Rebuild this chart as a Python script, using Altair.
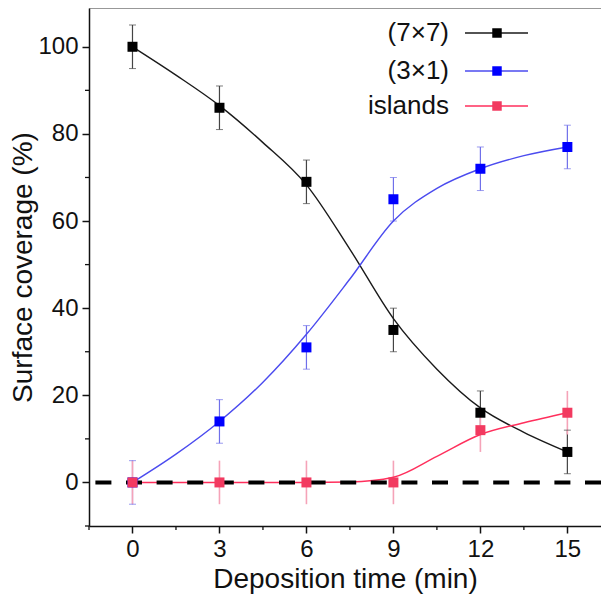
import altair as alt
import pandas as pd

# ---- data ----
time = [0, 3, 6, 9, 12, 15]
cov_77 = [100, 86, 69, 35, 16, 7]
cov_31 = [0, 14, 31, 65, 72, 77]
cov_isl = [0, 0, 0, 0, 12, 16]
err = [5, 5, 5, 5, 5, 5]

# fitted curves
fit_t = [0, 1.5, 3, 4.5, 6, 7.5, 9, 10.5, 12, 13.5, 15]
fit_77 = [100, 93.5, 86.5, 78, 68.3, 53.5, 37.6, 26, 17.1, 11.5, 7]
fit_31 = [0, 6.5, 14, 23, 34, 46.7, 60, 67.5, 72, 75, 77]
fit_isl = [0, 0, 0, 0, 0, 0.1, 1.2, 6, 11, 13.7, 16]

series = ["(7×7)", "(3×1)", "islands"]
marker_colors = ["#000000", "#0000ff", "#f23a60"]
line_colors = ["#1a1a1a", "#4b4bef", "#ff2f5c"]
err_colors = ["#444444", "#6f6fea", "#f5a3b8"]

x_major = [0, 3, 6, 9, 12, 15]
x_minor = [-1.5, 1.5, 4.5, 7.5, 10.5, 13.5]
y_major = [0, 20, 40, 60, 80, 100]
y_minor = [-10, 10, 30, 50, 70, 90]

W, H = 512, 518
FONT = "Liberation Sans"

xscale = alt.Scale(domain=[-1.5, 16.16], nice=False, zero=False)
yscale = alt.Scale(domain=[-10, 108.9], nice=False, zero=False)

common = dict(grid=False, tickSize=7, tickWidth=1.5, tickColor="#111", domainColor="#111",
              domainWidth=1.5, labelFont=FONT, labelFontSize=24, labelColor="#111",
              titleFont=FONT, titleFontWeight="normal", titleColor="#111", labelFlush=False)
xaxis = alt.Axis(values=x_major, title="Deposition time (min)", labelPadding=4,
                 titleFontSize=28, titlePadding=4, **common)
yaxis = alt.Axis(values=y_major, title="Surface coverage (%)", labelPadding=4,
                 titleFontSize=28, titlePadding=0, **common)


def X(f):
    return alt.X(f, type="quantitative", scale=xscale, axis=xaxis)


def Y(f):
    return alt.Y(f, type="quantitative", scale=yscale, axis=yaxis)


pts_vals = [cov_77, cov_31, cov_isl]
fit_vals = [fit_77, fit_31, fit_isl]

err_layers, cap_layers, line_layers, mark_layers = [], [], [], []
for i, name in enumerate(series):
    dfp = pd.DataFrame({"t": time, "v": pts_vals[i],
                        "lo": [v - e for v, e in zip(pts_vals[i], err)],
                        "hi": [v + e for v, e in zip(pts_vals[i], err)]})
    dff = pd.DataFrame({"t": fit_t, "v": fit_vals[i]})
    err_layers.append(alt.Chart(dfp).mark_rule(color=err_colors[i], strokeWidth=1.6 if i == 2 else 1.2)
                      .encode(x=X("t"), y=Y("lo"), y2="hi"))
    if i < 2:
        cap_layers.append(alt.Chart(dfp).mark_tick(color=err_colors[i], orient="horizontal",
                                                     size=7, thickness=1)
                          .encode(x=X("t"), y=Y("lo")))
        cap_layers.append(alt.Chart(dfp).mark_tick(color=err_colors[i], orient="horizontal",
                                                     size=7, thickness=1)
                          .encode(x=X("t"), y=Y("hi")))
    line_layers.append(alt.Chart(dff).mark_line(color=line_colors[i], strokeWidth=1.4,
                                                interpolate="monotone")
                       .encode(x=X("t"), y=Y("v")))
    mark_layers.append(alt.Chart(dfp).mark_square(color=marker_colors[i], size=100, opacity=1)
                       .encode(x=X("t"), y=Y("v")))

# zero dashed line
zero = alt.Chart(pd.DataFrame({"z": [0]})).mark_rule(color="#000", strokeWidth=4,
                                                      strokeDash=[16, 14.6]).encode(y=Y("z"))

# minor ticks
xmin_df = pd.DataFrame({"t": x_minor})
xminor = alt.Chart(xmin_df).mark_rule(color="#111", strokeWidth=1.3).encode(
    x=X("t"), y=alt.value(H), y2=alt.value(H + 4))
ymin_df = pd.DataFrame({"v": y_minor})
yminor = alt.Chart(ymin_df).mark_rule(color="#111", strokeWidth=1.3).encode(
    y=Y("v"), x=alt.value(0), x2=alt.value(-4))

# top frame line
top = alt.Chart(pd.DataFrame({"a": [0]})).mark_rule(color="#555", strokeWidth=1.2).encode(
    x=alt.value(0), x2=alt.value(W), y=alt.value(0))

# legend (manual, labels left of symbols)
leg = pd.DataFrame({"label": series, "col": marker_colors, "lcol": line_colors,
                    "tx": [360, 360, 360], "ty": [25, 63, 98],
                    "lx1": [376, 376, 376], "lx2": [439, 439, 439], "sx": [408, 408, 408]})
leg_text = alt.Chart(leg).mark_text(align="right", baseline="middle", font=FONT,
                                    fontSize=26, color="#111").encode(
    x=alt.X("tx:Q", scale=None, axis=None), y=alt.Y("ty:Q", scale=None, axis=None), text="label:N")
leg_line = alt.Chart(leg).mark_rule(strokeWidth=1.4).encode(
    x=alt.X("lx1:Q", scale=None, axis=None), x2="lx2:Q",
    y=alt.Y("ty:Q", scale=None, axis=None), color=alt.Color("lcol:N", scale=None))
leg_sq = alt.Chart(leg).mark_square(size=90, opacity=1).encode(
    x=alt.X("sx:Q", scale=None, axis=None), y=alt.Y("ty:Q", scale=None, axis=None),
    color=alt.Color("col:N", scale=None))

chart = alt.layer(
    *err_layers, *cap_layers, *line_layers, zero, *mark_layers,
    xminor, yminor, top, leg_line, leg_sq, leg_text
).properties(
    width=W, height=H,
    padding={"left": 81, "top": 0, "right": 0, "bottom": 70},
    autosize=alt.AutoSizeParams(type="none"),
).configure_view(strokeWidth=0).configure(background="white")

chart.save("out.html", embed_options={"renderer": "svg", "actions": False})
